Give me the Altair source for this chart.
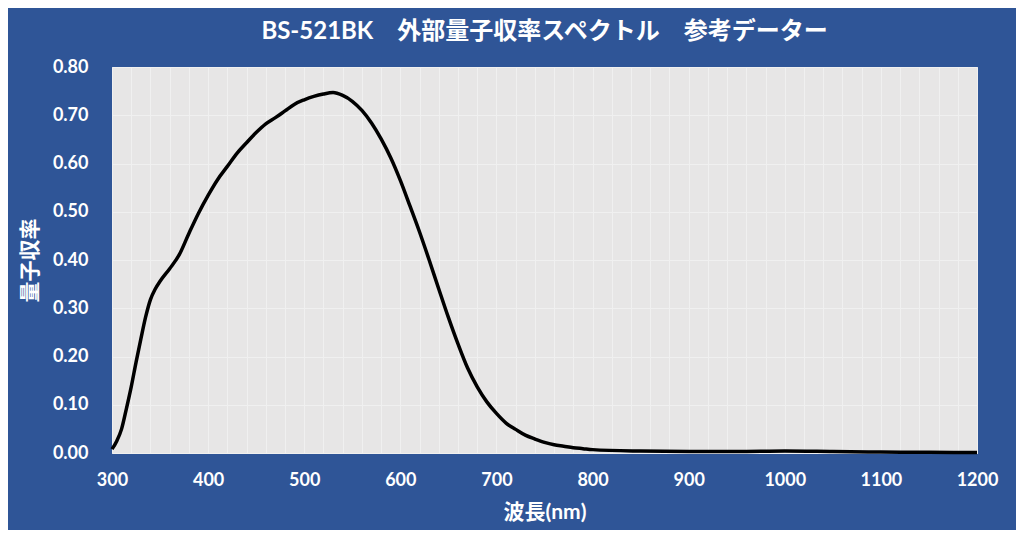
import altair as alt
import pandas as pd

wavelength = [300, 305, 310, 315, 320, 325, 330, 335, 340, 345, 350, 360, 370, 380, 390,
              400, 410, 420, 430, 440, 450, 460, 470, 480, 490, 500, 510, 520, 530, 540,
              550, 560, 570, 580, 590, 600, 610, 620, 630, 640, 650, 660, 670, 680, 690,
              700, 710, 720, 730, 740, 750, 760, 770, 780, 790, 800, 850, 900, 950, 1000,
              1050, 1100, 1150, 1200]
qe = [0.008, 0.025, 0.05, 0.092, 0.137, 0.188, 0.236, 0.282, 0.318, 0.340, 0.356, 0.382, 0.411, 0.455, 0.497,
      0.534, 0.567, 0.594, 0.621, 0.643, 0.664, 0.682, 0.695, 0.709, 0.723, 0.732, 0.739, 0.744, 0.747, 0.741,
      0.729, 0.710, 0.684, 0.651, 0.612, 0.565, 0.512, 0.458, 0.400, 0.340, 0.281, 0.226, 0.176, 0.137, 0.106,
      0.082, 0.062, 0.049, 0.037, 0.029, 0.022, 0.017, 0.014, 0.011, 0.009, 0.007, 0.004, 0.003, 0.003, 0.004,
      0.003, 0.002, 0.0015, 0.001]

x_grid = list(range(300, 1201, 20))
y_ticks = [0.0, 0.1, 0.2, 0.3, 0.4, 0.5, 0.6, 0.7, 0.8]

title_text = "BS-521BK　外部量子収率スペクトル　参考データー"
x_title = "波長(nm)"
y_title = "量子収率"

FONT = "Lato, 'Noto Sans CJK JP', sans-serif"

df = pd.DataFrame({"wl": wavelength, "qe": qe})

chart = alt.Chart(df).mark_line(
    color="black", strokeWidth=3.5, interpolate="monotone"
).encode(
    x=alt.X("wl:Q", scale=alt.Scale(domain=[300, 1200], nice=False),
            axis=alt.Axis(values=x_grid, title=x_title, format="d",
                          labelExpr="datum.value % 100 == 0 ? datum.label : ''",
                          labelFlush=False, labelOverlap=False,
                          labelPadding=18, titlePadding=12)),
    y=alt.Y("qe:Q", scale=alt.Scale(domain=[0, 0.8], nice=False),
            axis=alt.Axis(values=y_ticks, format=".2f", title=y_title,
                          labelFlush=False, labelPadding=24, titlePadding=12)),
).properties(
    width=865, height=386,
    autosize=alt.AutoSizeParams(type="none"),
    padding={"left": 104, "top": 59, "right": 39, "bottom": 77},
    title=alt.TitleParams(text=title_text, font=FONT, fontSize=24, fontWeight="bold",
                          color="white", anchor="middle", offset=14),
).configure(
    background="#2F5597",
).configure_view(
    fill="#E7E6E6", stroke="#C8D0E0", strokeWidth=1,
).configure_axis(
    domain=False, ticks=False, grid=True, gridColor="#F0F0F0", gridWidth=1,
    labelFont=FONT, labelFontSize=18, labelFontWeight="bold", labelColor="white",
    titleFont=FONT, titleFontSize=21, titleFontWeight="bold", titleColor="white",
)

chart.save("out.html", embed_options={"renderer": "svg", "actions": False})
